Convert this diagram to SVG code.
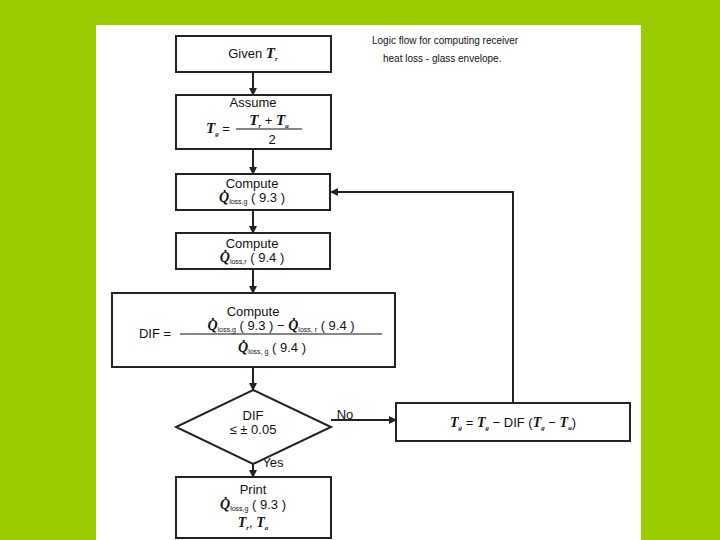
<svg xmlns="http://www.w3.org/2000/svg" width="720" height="540" viewBox="0 0 720 540">
<style>
.b{fill:#fff;stroke:#222;stroke-width:2}
.t{font-family:"Liberation Sans",Arial,sans-serif;font-size:13px;fill:#111;text-anchor:middle}
.i{font-family:"Liberation Serif","Times New Roman",serif;font-style:italic;font-weight:bold}
.s{font-size:7px}
.c{stroke:#222;stroke-width:2;fill:none}
.cap{font-family:"Liberation Sans",Arial,sans-serif;font-size:10px;fill:#111}
</style>
<defs><marker id="a" markerWidth="8" markerHeight="8" refX="7" refY="4" orient="auto" markerUnits="userSpaceOnUse"><path d="M0,0L8,4L0,8z" fill="#222"/></marker></defs>
<rect width="720" height="540" fill="#99cc00"/>
<rect x="96" y="25" width="545" height="515" fill="#fff"/>
<text class="cap" x="372" y="44">Logic flow for computing receiver</text>
<text class="cap" x="383" y="62">heat loss - glass envelope.</text>
<g id="connectors">
<path class="c" d="M253,72V95" marker-end="url(#a)"/>
<path class="c" d="M253,149V174" marker-end="url(#a)"/>
<path class="c" d="M253,210V233" marker-end="url(#a)"/>
<path class="c" d="M253,269V293" marker-end="url(#a)"/>
<path class="c" d="M253,367V390" marker-end="url(#a)"/>
<path class="c" d="M253,464V477" marker-end="url(#a)"/>
<path class="c" d="M331,420H396" stroke-width="1.2" marker-end="url(#a)"/>
<path class="c" d="M513,403V192H331" stroke-width="1.2" marker-end="url(#a)"/>
<text class="t" x="345" y="419">No</text>
<text class="t" x="273" y="467">Yes</text>
</g>
<g id="given"><rect class="b" x="176" y="36" width="155" height="36"/>
<text class="t" x="253" y="58">Given <tspan class="i" font-size="15">T</tspan><tspan class="i s" dy="3">r</tspan></text></g>
<g id="assume"><rect class="b" x="176" y="95" width="155" height="54"/>
<text class="t" x="253" y="107">Assume</text>
<text class="t" x="218" y="133"><tspan class="i" font-size="15">T</tspan><tspan class="i s" dy="3">g</tspan><tspan dy="-3"> =</tspan></text>
<line x1="236" y1="129" x2="302" y2="129" stroke="#111" stroke-width="1.2"/>
<text class="t" x="269" y="125"><tspan class="i" font-size="15">T</tspan><tspan class="i s" dy="3">r</tspan><tspan dy="-3"> + </tspan><tspan class="i" font-size="15">T</tspan><tspan class="i s" dy="3">a</tspan></text>
<text class="t" x="272" y="144">2</text></g>
<g id="qg"><rect class="b" x="176" y="174" width="154" height="36"/>
<text class="t" x="252" y="188">Compute</text>
<text class="t" x="252" y="202"><tspan class="i" font-size="14">Q̇</tspan><tspan class="s" dy="2">loss,g</tspan><tspan dy="-2"> ( 9.3 )</tspan></text></g>
<g id="qr"><rect class="b" x="176" y="233" width="154" height="36"/>
<text class="t" x="252" y="248">Compute</text>
<text class="t" x="252" y="262"><tspan class="i" font-size="14">Q̇</tspan><tspan class="s" dy="2">loss,r</tspan><tspan dy="-2"> ( 9.4 )</tspan></text></g>
<g id="dif"><rect class="b" x="112" y="293" width="283" height="74"/>
<text class="t" x="253" y="316">Compute</text>
<text class="t" x="155" y="338">DIF  =</text>
<line x1="180" y1="334" x2="382" y2="334" stroke="#111" stroke-width="1.2"/>
<text class="t" x="281" y="330"><tspan class="i" font-size="14">Q̇</tspan><tspan class="s" dy="2">loss,g</tspan><tspan dy="-2"> ( 9.3 ) − </tspan><tspan class="i" font-size="14">Q̇</tspan><tspan class="s" dy="2">loss, r</tspan><tspan dy="-2"> ( 9.4 )</tspan></text>
<text class="t" x="272" y="352"><tspan class="i" font-size="14">Q̇</tspan><tspan class="s" dy="2">loss, g</tspan><tspan dy="-2"> ( 9.4 )</tspan></text></g>
<g id="decision"><polygon class="b" points="253,390 331,427 253,464 176,427"/>
<text class="t" x="253" y="420">DIF</text>
<text class="t" x="253" y="434">≤  ± 0.05</text></g>
<g id="update"><rect class="b" x="396" y="403" width="234" height="38"/>
<text class="t" x="513" y="427"><tspan class="i" font-size="14">T</tspan><tspan class="i s" dy="3">g</tspan><tspan dy="-3"> = </tspan><tspan class="i" font-size="14">T</tspan><tspan class="i s" dy="3">g</tspan><tspan dy="-3"> − DIF (</tspan><tspan class="i" font-size="14">T</tspan><tspan class="i s" dy="3">g</tspan><tspan dy="-3"> − </tspan><tspan class="i" font-size="14">T</tspan><tspan class="i s" dy="3">a</tspan><tspan dy="-3">)</tspan></text></g>
<g id="print"><rect class="b" x="176" y="477" width="155" height="61"/>
<text class="t" x="253" y="494">Print</text>
<text class="t" x="253" y="509"><tspan class="i" font-size="14">Q̇</tspan><tspan class="s" dy="2">loss,g</tspan><tspan dy="-2"> ( 9.3 )</tspan></text>
<text class="t" x="253" y="527"><tspan class="i" font-size="14">T</tspan><tspan class="i s" dy="3">r</tspan><tspan dy="-3">, </tspan><tspan class="i" font-size="14">T</tspan><tspan class="i s" dy="3">a</tspan></text></g>
</svg>
